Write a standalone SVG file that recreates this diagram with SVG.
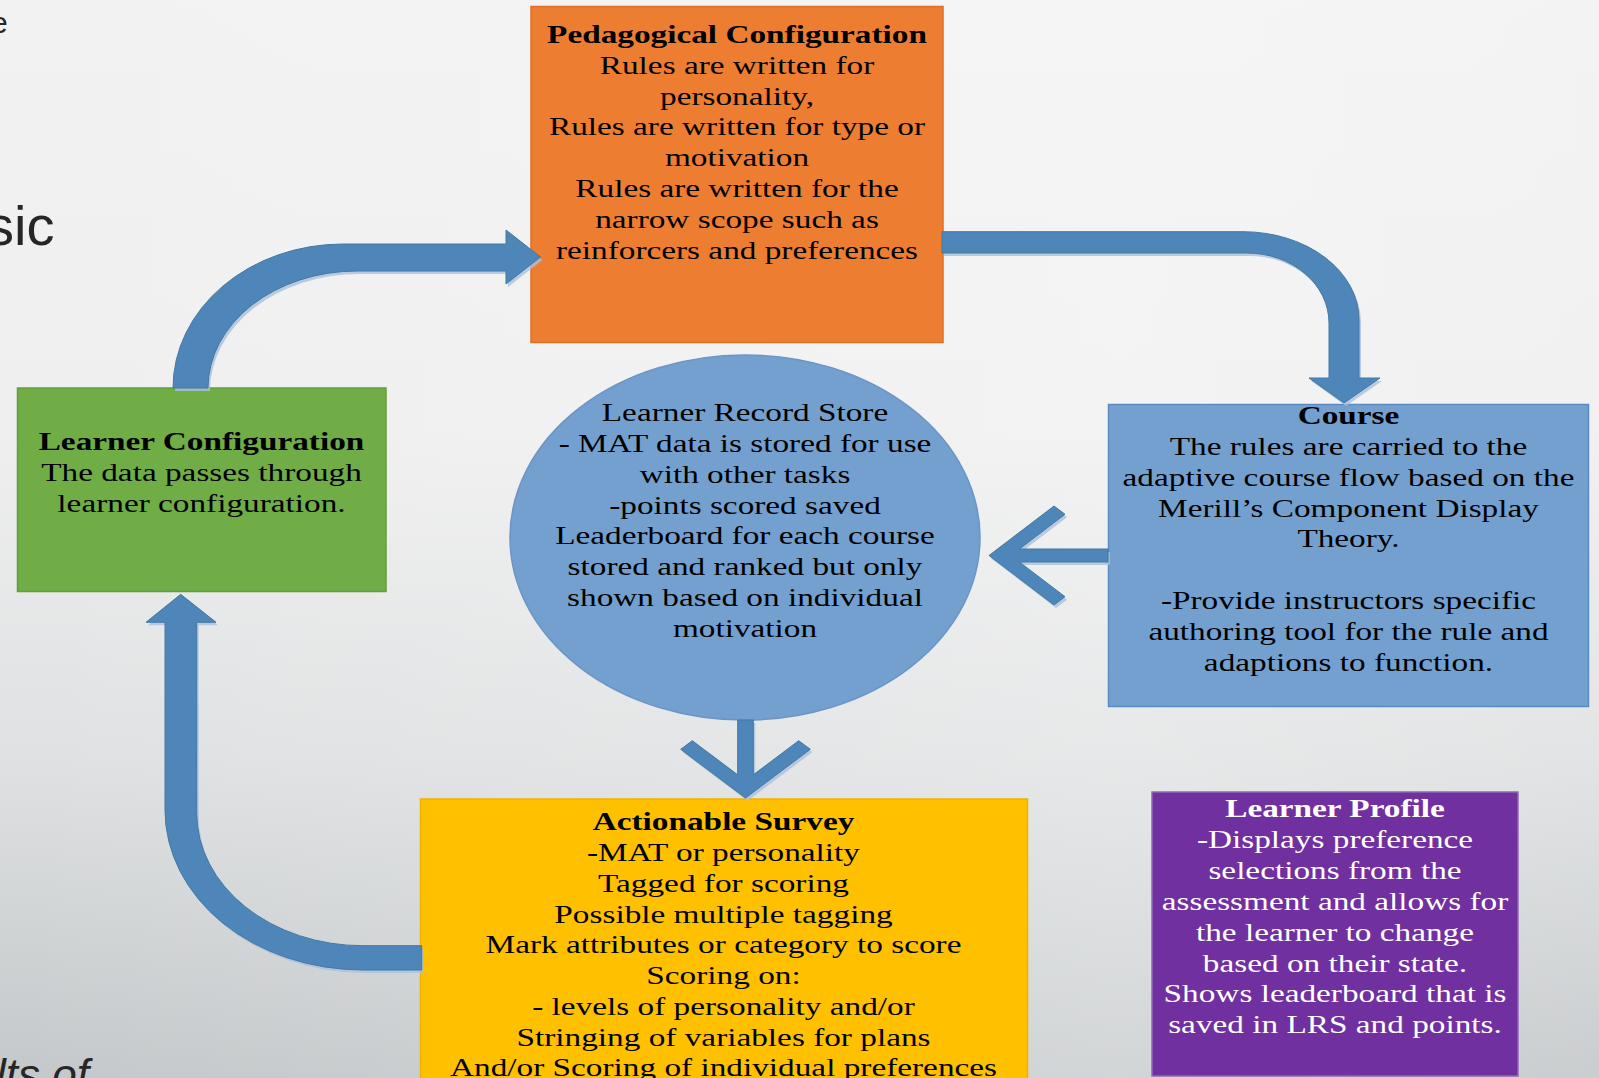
<svg xmlns="http://www.w3.org/2000/svg" xmlns:xlink="http://www.w3.org/1999/xlink" width="1599" height="1078" viewBox="0 0 1599 1078">
<defs>
<linearGradient id="bg" x1="0" y1="0" x2="0" y2="1">
<stop offset="0" stop-color="#f2f2f2"/>
<stop offset="0.4" stop-color="#efefef"/>
<stop offset="0.7" stop-color="#dfe1e2"/>
<stop offset="1" stop-color="#c4c8ca"/>
</linearGradient>
<linearGradient id="bgh" x1="0" y1="0" x2="1" y2="0">
<stop offset="0" stop-color="#ffffff" stop-opacity="0"/>
<stop offset="0.7" stop-color="#ffffff" stop-opacity="0.25"/>
<stop offset="1" stop-color="#ffffff" stop-opacity="0.1"/>
</linearGradient>
<style>
.t{font-family:"Liberation Serif","Times New Roman",serif;font-size:26px;text-anchor:middle;fill:#000}
.b{font-weight:bold}
.w{fill:#fff}
.bgt{font-family:"Liberation Sans",Arial,sans-serif;fill:#262626}
.arrow{fill:#4E86BA;stroke:#44789f;stroke-width:1}
.shadow{fill:#a9c1dc;opacity:0.8}
</style>
<path id="a1" d="M173,388 A170,144 0 0 1 343,244 L506,244 L506,230 L540.5,257 L506,284 L506,271 L357,271 A149,117 0 0 0 208,388 Z"/>
<path id="a2" d="M942,231.7 L1243,231.7 A116,88 0 0 1 1359,320 L1359,378 L1380,378 L1344,403 L1309,378 L1329,378 L1329,323 A82,70 0 0 0 1247,253 L942,253 Z"/>
<path id="a3" d="M989,555.5 L1054,506 L1065,514.3 L1019.4,549 L1108,549 L1108,562 L1019.4,562 L1065,596.7 L1054,605 Z"/>
<path id="a4" d="M745.5,798 L680.7,749.3 L692.3,740.7 L737.7,774.8 L737.7,720 L753.3,720 L753.3,774.8 L798.7,740.7 L810.3,749.3 Z"/>
<path id="a5" d="M421.7,945.7 L363,945.7 A166,132.7 0 0 1 196.7,813 L196.7,622.3 L216,622.3 L180.7,594.3 L146,622.3 L165,622.3 L165,810 A198,160 0 0 0 363,970 L421.7,970 Z"/>
</defs>
<rect x="0" y="0" width="1599" height="1078" fill="url(#bg)"/>
<rect x="0" y="0" width="1599" height="1078" fill="url(#bgh)"/>
<text class="bgt" x="-9" y="33" font-size="30">e</text>
<text class="bgt" x="-14" y="245" font-size="56">sic</text>
<text class="bgt" x="-4" y="1090" font-size="44" font-style="italic">lts of</text>

<g id="pedagogical-configuration">
<rect x="531" y="6.5" width="412" height="336" fill="#ED7D31" stroke="#de6f27" stroke-width="1.5"/>
<g transform="translate(737,0) scale(1.28,1)">
<text class="t"><tspan class="b" x="0" y="43">Pedagogical Configuration</tspan><tspan x="0" y="73.8">Rules are written for</tspan><tspan x="0" y="104.6">personality,</tspan><tspan x="0" y="135.4">Rules are written for type or</tspan><tspan x="0" y="166.2">motivation</tspan><tspan x="0" y="197">Rules are written for the</tspan><tspan x="0" y="227.8">narrow scope such as</tspan><tspan x="0" y="258.6">reinforcers and preferences</tspan></text>
</g>
</g>

<g id="learner-configuration">
<rect x="17.5" y="388" width="368.5" height="203.5" fill="#70AD47" stroke="#62a03b" stroke-width="1.5"/>
<g transform="translate(201.5,0) scale(1.28,1)">
<text class="t"><tspan class="b" x="0" y="450.5">Learner Configuration</tspan><tspan x="0" y="481.3">The data passes through</tspan><tspan x="0" y="512.1">learner configuration.</tspan></text>
</g>
</g>

<g id="course">
<rect x="1108.5" y="404.5" width="480" height="302" fill="#74A0CF" stroke="#5a8bc3" stroke-width="1.5"/>
<g transform="translate(1348.5,0) scale(1.28,1)">
<text class="t"><tspan class="b" x="0" y="424.3">Course</tspan><tspan x="0" y="455">The rules are carried to the</tspan><tspan x="0" y="485.8">adaptive course flow based on the</tspan><tspan x="0" y="516.6">Merill’s Component Display</tspan><tspan x="0" y="547.4">Theory.</tspan><tspan x="0" y="609.3">-Provide instructors specific</tspan><tspan x="0" y="640.3">authoring tool for the rule and</tspan><tspan x="0" y="671.3">adaptions to function.</tspan></text>
</g>
</g>

<g id="learner-record-store">
<ellipse cx="745" cy="537.5" rx="235" ry="182.5" fill="#74A0CF" stroke="#6a95c6" stroke-width="1.5"/>
<g transform="translate(745,0) scale(1.28,1)">
<text class="t"><tspan x="0" y="421.2">Learner Record Store</tspan><tspan x="0" y="452">- MAT data is stored for use</tspan><tspan x="0" y="482.8">with other tasks</tspan><tspan x="0" y="513.6">-points scored saved</tspan><tspan x="0" y="544.4">Leaderboard for each course</tspan><tspan x="0" y="575.2">stored and ranked but only</tspan><tspan x="0" y="606">shown based on individual</tspan><tspan x="0" y="636.8">motivation</tspan></text>
</g>
</g>

<g id="actionable-survey">
<rect x="420.5" y="799" width="607" height="290" fill="#FFC000" stroke="#eeb200" stroke-width="1.5"/>
<g transform="translate(723.5,0) scale(1.28,1)">
<text class="t"><tspan class="b" x="0" y="830">Actionable Survey</tspan><tspan x="0" y="861">-MAT or personality</tspan><tspan x="0" y="892">Tagged for scoring</tspan><tspan x="0" y="922.7">Possible multiple tagging</tspan><tspan x="0" y="953.4">Mark attributes or category to score</tspan><tspan x="0" y="984.1">Scoring on:</tspan><tspan x="0" y="1014.8">- levels of personality and/or</tspan><tspan x="0" y="1045.6">Stringing of variables for plans</tspan><tspan x="0" y="1076.4">And/or Scoring of individual preferences</tspan></text>
</g>
</g>

<g id="learner-profile">
<rect x="1152" y="792" width="366" height="284" fill="#7030A0" stroke="#8f67b5" stroke-width="1.5"/>
<g transform="translate(1335,0) scale(1.28,1)">
<text class="t w"><tspan class="b" x="0" y="817.3">Learner Profile</tspan><tspan x="0" y="848.2">-Displays preference</tspan><tspan x="0" y="879.1">selections from the</tspan><tspan x="0" y="910">assessment and allows for</tspan><tspan x="0" y="940.8">the learner to change</tspan><tspan x="0" y="971.6">based on their state.</tspan><tspan x="0" y="1002.4">Shows leaderboard that is</tspan><tspan x="0" y="1033.2">saved in LRS and points.</tspan></text>
</g>
</g>

<g id="connectors">
<g transform="translate(2,3)">
<use xlink:href="#a1" class="shadow"/>
<use xlink:href="#a2" class="shadow"/>
<use xlink:href="#a3" class="shadow"/>
<use xlink:href="#a4" class="shadow"/>
<use xlink:href="#a5" class="shadow"/>
</g>
<use xlink:href="#a1" class="arrow"/>
<use xlink:href="#a2" class="arrow"/>
<use xlink:href="#a3" class="arrow"/>
<use xlink:href="#a4" class="arrow"/>
<use xlink:href="#a5" class="arrow"/>
</g>
</svg>
